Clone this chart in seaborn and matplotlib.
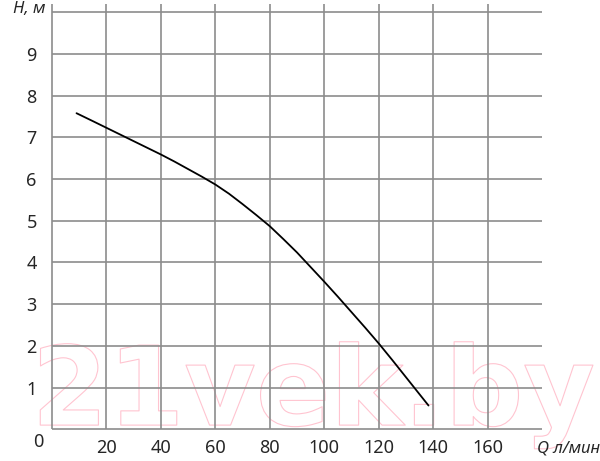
import numpy as np
import pandas as pd
import matplotlib
matplotlib.use("Agg")
import matplotlib.pyplot as plt
import matplotlib.patheffects as pe
import seaborn as sns

# pump curve
flow = [9, 15, 20, 25, 30, 35, 40, 45, 50, 55, 60, 65, 70, 75, 80, 85, 90, 95,
        100, 105, 110, 115, 120, 125, 130, 135, 138.3]
head = [7.58, 7.39, 7.23, 7.07, 6.91, 6.75, 6.59, 6.42, 6.24, 6.06, 5.87, 5.65, 5.40, 5.14,
        4.87, 4.56, 4.24, 3.89, 3.54, 3.18, 2.81, 2.44, 2.06, 1.66, 1.25, 0.84, 0.57]
x_ticks = [20, 40, 60, 80, 100, 120, 140, 160]
y_ticks = [1, 2, 3, 4, 5, 6, 7, 8, 9]

sns.set_style("white")
plt.rcParams['font.family'] = ['Noto Sans', 'DejaVu Sans']

fig = plt.figure(figsize=(6, 4.61), dpi=100)
ax = fig.add_axes([0.0867, 0.0688, 0.8167, 0.9045])
ax.set_xlim(0, 180)
ax.set_ylim(0, 10)
for s in ax.spines.values():
    s.set_visible(False)

grid_kw = dict(color="#8c8c8c", lw=1.2, zorder=1)
ax.hlines(range(0, 11), 0, 180, clip_on=False, **grid_kw)
ax.vlines([0] + x_ticks, 0, 10.2, clip_on=False, **grid_kw)

# watermark
ax.text(-7.5, 0.1, "21vek.by", fontsize=79, fontweight="bold", family="DejaVu Sans",
        color="none", ha="left", va="baseline", zorder=0, clip_on=False,
        path_effects=[pe.Stroke(linewidth=0.8, foreground="#ffc4d0")])

df = pd.DataFrame({"Q": flow, "H": head})
sns.lineplot(data=df, x="Q", y="H", color="black", lw=1.3, ax=ax, zorder=3)

ax.set_xticks(x_ticks)
ax.set_yticks(y_ticks)
ax.tick_params(axis="both", length=0, labelsize=13)
ax.tick_params(axis="y", pad=11)
ax.tick_params(axis="x", pad=7)
ax.set_xlabel("")
ax.set_ylabel("")

ax.text(-5, -0.3, "0", fontsize=13, ha="center", va="center", clip_on=False)
ax.text(-14.3, 10.08, "H, м", fontsize=12, style="italic", ha="left", va="center", clip_on=False)
ax.text(178, -0.45, "Q л/мин", fontsize=12, style="italic", ha="left", va="center", clip_on=False)

fig.savefig("out.png", dpi=100)
